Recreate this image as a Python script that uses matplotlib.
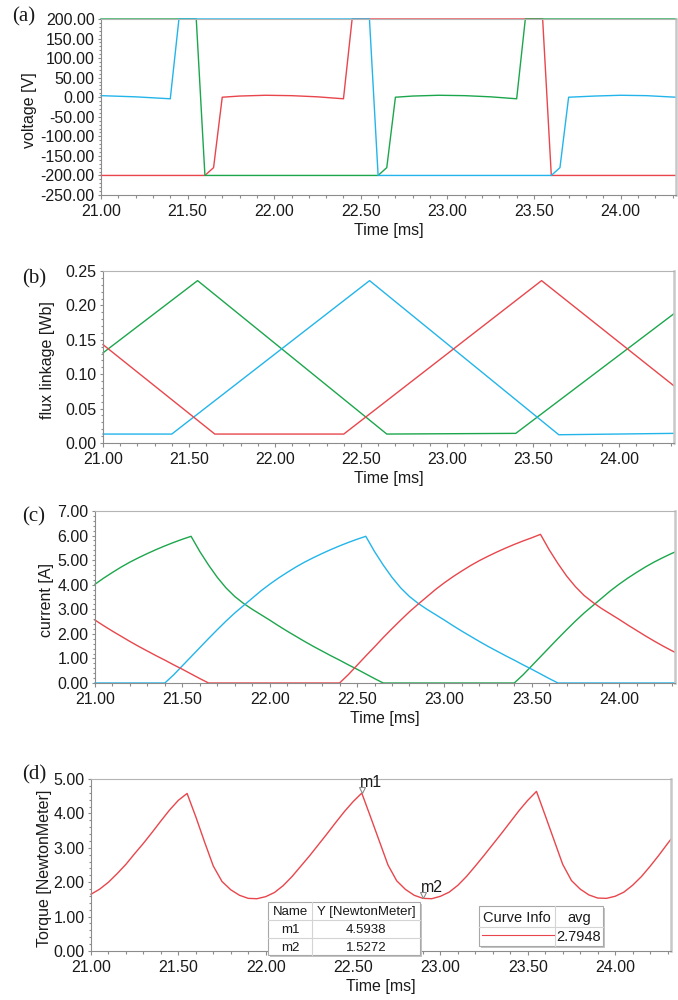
import numpy as np
import matplotlib
matplotlib.use("Agg")
import matplotlib.pyplot as plt
from matplotlib.patches import Rectangle
from matplotlib.ticker import MultipleLocator, FormatStrFormatter
from matplotlib.transforms import ScaledTranslation

plt.rcParams['font.family'] = ['Liberation Sans', 'DejaVu Sans']

W, H = 678, 1000
GREEN = '#1ca64c'
BLUE = '#23b5ea'
RED = '#e8464c'

# (a) phase voltages [V] - breakpoints
t_v_green = [21.00, 21.55, 21.60, 22.60, 22.65, 22.70, 22.80, 22.95, 23.10, 23.25, 23.40, 23.45, 24.32]
v_green = [200, 200, -200, -200, -180, 0, 3, 5, 4, 1, -4, 200, 200]
t_v_blue = [21.00, 21.20, 21.40, 21.45, 22.55, 22.60, 23.60, 23.65, 23.70, 23.85, 24.00, 24.15, 24.32]
v_blue = [4, 1, -4, 200, 200, -200, -200, -180, 0, 3, 5, 4, 0]
t_v_red = [21.00, 21.60, 21.65, 21.70, 21.80, 21.95, 22.10, 22.25, 22.40, 22.45, 23.55, 23.60, 24.32]
v_red = [-200, -200, -180, 0, 3, 5, 4, 1, -4, 200, 200, -200, -200]

# (b) flux linkage [Wb]
t_f_green = [21.00, 21.55, 22.65, 23.40, 24.32]
f_green = [0.131, 0.236, 0.013, 0.014, 0.188]
t_f_blue = [21.00, 21.40, 22.55, 23.65, 24.32]
f_blue = [0.013, 0.013, 0.236, 0.012, 0.014]
t_f_red = [21.00, 21.65, 22.40, 23.55, 24.32]
f_red = [0.143, 0.013, 0.013, 0.236, 0.083]

# (c) phase currents [A] and (d) torque, sampled every 0.05 ms
t_grid = list(np.round(np.linspace(21.0, 24.3, 67), 2)) + [24.32]

i_green = [4.02, 4.27, 4.50, 4.72, 4.92, 5.10, 5.27, 5.43, 5.58, 5.72, 5.85, 5.97,
           5.35, 4.80, 4.30, 3.87, 3.52, 3.24, 3.00, 2.78, 2.56, 2.33, 2.11, 1.90,
           1.69, 1.49, 1.30, 1.11, 0.93, 0.74, 0.56, 0.37, 0.18, 0.00,
           0, 0, 0, 0, 0, 0, 0, 0, 0, 0, 0, 0, 0, 0, 0,
           0.33, 0.70, 1.07, 1.44, 1.81, 2.17, 2.52, 2.85, 3.15, 3.45, 3.75, 4.02,
           4.27, 4.50, 4.72, 4.92, 5.10, 5.27, 5.33]
i_blue = [0, 0, 0, 0, 0, 0, 0, 0, 0,
          0.33, 0.70, 1.07, 1.44, 1.81, 2.17, 2.52, 2.85, 3.15, 3.45, 3.75, 4.02,
          4.27, 4.50, 4.72, 4.92, 5.10, 5.27, 5.43, 5.58, 5.72, 5.85, 5.97,
          5.35, 4.80, 4.30, 3.87, 3.52, 3.24, 3.00, 2.78, 2.56, 2.33, 2.11, 1.90,
          1.69, 1.49, 1.30, 1.11, 0.93, 0.74, 0.56, 0.37, 0.18, 0.00,
          0, 0, 0, 0, 0, 0, 0, 0, 0, 0, 0, 0, 0, 0]
i_red = [2.56, 2.33, 2.11, 1.90, 1.69, 1.49, 1.30, 1.11, 0.93, 0.74, 0.56, 0.37, 0.18, 0.00,
         0, 0, 0, 0, 0, 0, 0, 0, 0, 0, 0, 0, 0, 0, 0,
         0.34, 0.72, 1.10, 1.47, 1.85, 2.21, 2.56, 2.90, 3.21, 3.51, 3.81, 4.08,
         4.33, 4.56, 4.78, 4.98, 5.16, 5.33, 5.49, 5.64, 5.78, 5.91, 6.05,
         5.42, 4.86, 4.35, 3.92, 3.56, 3.28, 3.03, 2.81, 2.59, 2.36, 2.14, 1.92,
         1.71, 1.51, 1.32, 1.25]

torque = [1.65, 1.80, 2.00, 2.25, 2.52, 2.83, 3.13, 3.45, 3.78, 4.10, 4.38, 4.58,
          3.90, 3.17, 2.47, 2.02, 1.78, 1.62, 1.53, 1.52, 1.58, 1.70, 1.90, 2.16,
          2.46, 2.76, 3.08, 3.40, 3.73, 4.05, 4.34, 4.59,
          3.90, 3.20, 2.50, 2.04, 1.79, 1.62, 1.53, 1.52, 1.59, 1.71, 1.91, 2.17,
          2.47, 2.78, 3.10, 3.42, 3.75, 4.08, 4.38, 4.64,
          3.94, 3.23, 2.52, 2.05, 1.80, 1.63, 1.54, 1.53, 1.59, 1.71, 1.91, 2.16,
          2.46, 2.78, 3.12, 3.25]

markers = ['m1', 'm2']
marker_t = [22.55, 22.90]
marker_y = [4.5938, 1.5272]
torque_avg = 2.7948

fig = plt.figure(figsize=(W / 100, H / 100), dpi=100)


def add_panel(l, t, r, b):
    return fig.add_axes([l / W, 1 - b / H, (r - l) / W, (b - t) / H])


def style(ax, ylo, yhi, ystep, yminor, ylabel, lab_x):
    ax.set_xlim(21.0, 24.32)
    ax.set_ylim(ylo, yhi)
    ax.xaxis.set_major_locator(MultipleLocator(0.5))
    ax.xaxis.set_minor_locator(MultipleLocator(0.1))
    ax.yaxis.set_major_locator(MultipleLocator(ystep))
    ax.yaxis.set_minor_locator(MultipleLocator(yminor))
    ax.xaxis.set_major_formatter(FormatStrFormatter('%.2f'))
    ax.yaxis.set_major_formatter(FormatStrFormatter('%.2f'))
    ax.tick_params(which='both', color='#8c8c8c', width=0.8, labelsize=11.5,
                   labelcolor='#1a1a1a')
    ax.tick_params(axis='x', which='major', direction='out', length=3, pad=3.5)
    ax.tick_params(axis='x', which='minor', direction='out', length=2)
    ax.tick_params(axis='y', which='major', direction='out', length=2, pad=2.5)
    ax.tick_params(axis='y', which='minor', direction='out', length=1.5)
    for s in ['left', 'bottom']:
        ax.spines[s].set_color('#8c8c8c')
        ax.spines[s].set_linewidth(0.8)
    ax.spines['top'].set_color('#b4b4b4')
    ax.spines['top'].set_linewidth(0.8)
    ax.spines['right'].set_color('#c8c8c8')
    ax.spines['right'].set_linewidth(1.8)
    ax.set_xlabel('Time [ms]', fontsize=11.5, labelpad=3, color='#1a1a1a')
    ax.set_ylabel(ylabel, fontsize=11.5, color='#1a1a1a')
    ax.yaxis.set_label_coords(lab_x, 0.48)


lw = 1.0

# (a)
ax1 = add_panel(101, 19, 676, 195)
ax1.plot(t_v_red, v_red, color=RED, lw=lw, clip_on=False)
ax1.plot(t_v_green, v_green, color=GREEN, lw=lw, clip_on=False)
ax1.plot(t_v_blue, v_blue, color=BLUE, lw=lw, clip_on=False)
style(ax1, -250, 200, 50, 10, 'voltage [V]', -0.111)

# (b)
ax2 = add_panel(103, 271, 674, 443)
ax2.plot(t_f_green, f_green, color=GREEN, lw=lw, clip_on=False)
ax2.plot(t_f_blue, f_blue, color=BLUE, lw=lw, clip_on=False)
ax2.plot(t_f_red, f_red, color=RED, lw=lw, clip_on=False)
style(ax2, 0, 0.25, 0.05, 0.01, 'flux linkage [Wb]', -0.084)

# (c)
ax3 = add_panel(95, 511, 675, 683)
ax3.plot(t_grid, i_green, color=GREEN, lw=lw, clip_on=False)
ax3.plot(t_grid, i_blue, color=BLUE, lw=lw, clip_on=False)
ax3.plot(t_grid, i_red, color=RED, lw=lw, clip_on=False)
style(ax3, 0, 7, 1, 0.2, 'current [A]', -0.071)

# (d)
ax4 = add_panel(91, 779, 671, 951)
ax4.plot(t_grid, torque, color=RED, lw=lw, clip_on=False)
style(ax4, 0, 5, 1, 0.2, 'Torque [NewtonMeter]', -0.067)
up = ScaledTranslation(0, 3 / 100, fig.dpi_scale_trans)
for name, mt, my in zip(markers, marker_t, marker_y):
    ax4.plot([mt], [my], marker='v', ms=5, mfc='white', mec='#8a8a8a', mew=0.8,
             transform=ax4.transData + up, clip_on=False)
    ax4.annotate(name, (mt, my), xytext=(-2, 6), textcoords='offset pixels',
                 ha='left', va='baseline', fontsize=11.5, color='#1a1a1a')

# overlay in pixel coordinates for panel labels and info tables
ov = fig.add_axes([0, 0, 1, 1], zorder=10)
ov.set_xlim(0, W)
ov.set_ylim(H, 0)
ov.axis('off')
ov.patch.set_alpha(0)

for lab, x, y in [('(a)', 12, 17), ('(b)', 22, 279), ('(c)', 22, 517), ('(d)', 22, 775)]:
    ov.text(x, y, lab, fontsize=15, family='Liberation Serif', ha='left', va='center',
            color='#1a1a1a')


def box(x0, y0, x1, y1, cols, rows):
    ov.add_patch(Rectangle((x0 + 2, y0 + 2), x1 - x0, y1 - y0, fc='#c4c4c4', ec='none'))
    ov.add_patch(Rectangle((x0, y0), x1 - x0, y1 - y0, fc='white', ec='#a8a8a8', lw=0.8))
    for cx in cols:
        ov.plot([cx, cx], [y0, y1], color='#d4d4d4', lw=0.8)
    for ry in rows:
        ov.plot([x0, x1], [ry, ry], color='#d4d4d4', lw=0.8)


# marker table
box(268, 902, 420, 955, [312], [920, 938])
tbl_rows = [('Name', 'Y [NewtonMeter]')] + [(n, '%.4f' % v) for n, v in zip(markers, marker_y)]
for (c1, c2), y in zip(tbl_rows, [912, 930, 948]):
    ov.text(290, y, c1, fontsize=9.5, ha='center', va='center', color='#1a1a1a')
    ov.text(366, y, c2, fontsize=9.5, ha='center', va='center', color='#1a1a1a')

# curve info table
box(479, 906, 603, 946, [555], [927])
ov.text(517, 918, 'Curve Info', fontsize=10.5, ha='center', va='center', color='#1a1a1a')
ov.text(579, 918, 'avg', fontsize=10.5, ha='center', va='center', color='#1a1a1a')
ov.plot([482, 554], [935, 935], color=RED, lw=0.8)
ov.text(579, 937, '%.4f' % torque_avg, fontsize=10.5, ha='center', va='center', color='#1a1a1a')

fig.savefig('out.png', dpi=100)
